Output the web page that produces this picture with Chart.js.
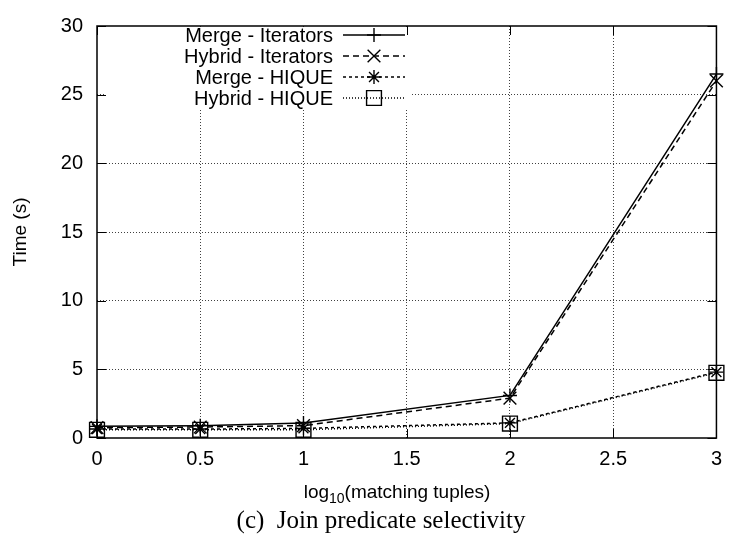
<!DOCTYPE html>
<html>
<head>
<meta charset="utf-8">
<script src="https://cdn.jsdelivr.net/npm/chart.js@4/dist/chart.umd.min.js"></script>
<style>
  html, body { margin: 0; padding: 0; background: #fff; }
  #wrap { width: 731px; height: 553px; }
</style>
</head>
<body>
<div id="wrap"><canvas id="c" width="731" height="553"></canvas></div>
<script>
// log10 of the number of matching tuples
const xValues = [0, 0.5, 1, 2, 3];
const xTicks = [0, 0.5, 1, 1.5, 2, 2.5, 3];
const yTicks = [0, 5, 10, 15, 20, 25, 30];

// Running time in seconds for each strategy
const seriesNames = ['Merge - Iterators', 'Hybrid - Iterators', 'Merge - HIQUE', 'Hybrid - HIQUE'];
const mergeIterators = [0.85, 0.9, 1.1, 3.1, 26.5];
const hybridIterators = [0.75, 0.8, 0.9, 2.9, 26.0];
const mergeHique = [0.65, 0.65, 0.7, 1.1, 4.8];
const hybridHique = [0.6, 0.6, 0.6, 1.05, 4.75];

const SANS = '"Liberation Sans", Arial, Helvetica, sans-serif';
const SERIF = '"Liberation Serif", "Times New Roman", serif';

const styles = [
  { dash: [], point: 'cross', r: 7 },
  { dash: [6, 4], point: 'crossRot', r: 9 },
  { dash: [3, 3], point: 'star', r: 7 },
  { dash: [1, 2], point: 'rect', r: 10.5 }
];

const seriesValues = [mergeIterators, hybridIterators, mergeHique, hybridHique];

const datasets = seriesValues.map((vals, i) => ({
  label: seriesNames[i],
  data: vals.map((v, j) => ({ x: xValues[j], y: v })),
  borderColor: '#000',
  backgroundColor: 'rgba(0,0,0,0)',
  borderWidth: 1.5,
  borderDash: styles[i].dash,
  pointStyle: styles[i].point,
  pointRadius: styles[i].r,
  pointHoverRadius: styles[i].r,
  pointBorderColor: '#000',
  pointBackgroundColor: 'rgba(0,0,0,0)',
  pointBorderWidth: 1.4,
  clip: false,
  tension: 0
}));

function marker(ctx, style, x, y, r) {
  ctx.save();
  ctx.setLineDash([]);
  ctx.lineWidth = 1.4;
  ctx.strokeStyle = '#000';
  ctx.beginPath();
  const d = Math.SQRT1_2 * r;
  if (style === 'cross' || style === 'star') {
    ctx.moveTo(x, y - r); ctx.lineTo(x, y + r);
    ctx.moveTo(x - r, y); ctx.lineTo(x + r, y);
  }
  if (style === 'crossRot' || style === 'star') {
    ctx.moveTo(x - d, y - d); ctx.lineTo(x + d, y + d);
    ctx.moveTo(x - d, y + d); ctx.lineTo(x + d, y - d);
  }
  if (style === 'rect') {
    ctx.rect(x - d, y - d, 2 * d, 2 * d);
  }
  ctx.stroke();
  ctx.restore();
}

// key area (kept clear of grid lines and top ticks)
const KEY_LEFT = 104, KEY_RIGHT = 406, KEY_BOTTOM = 108;

// Frame, inward tick marks, opaque key box, key and titles
const framePlugin = {
  id: 'frame',
  beforeDatasetsDraw(chart) {
    const { ctx, chartArea: a, scales } = chart;
    ctx.save();
    ctx.fillStyle = '#fff';
    ctx.fillRect(KEY_LEFT, a.top + 1, KEY_RIGHT + 6 - KEY_LEFT, KEY_BOTTOM - a.top - 1);
    // inward ticks on all four sides
    ctx.strokeStyle = '#000';
    ctx.lineWidth = 1;
    const tl = 9;
    ctx.beginPath();
    xTicks.forEach(v => {
      const px = Math.round(scales.x.getPixelForValue(v)) + 0.5;
      ctx.moveTo(px, a.bottom); ctx.lineTo(px, a.bottom - tl);
      if (px < KEY_LEFT || px > KEY_RIGHT) {
        ctx.moveTo(px, a.top); ctx.lineTo(px, a.top + tl);
      }
    });
    yTicks.forEach(v => {
      const py = Math.round(scales.y.getPixelForValue(v)) + 0.5;
      ctx.moveTo(a.left, py); ctx.lineTo(a.left + tl, py);
      ctx.moveTo(a.right, py); ctx.lineTo(a.right - tl, py);
    });
    ctx.stroke();
    // border
    ctx.lineWidth = 1.5;
    ctx.strokeRect(a.left, a.top, a.right - a.left, a.bottom - a.top);
    ctx.restore();
  },
  afterDraw(chart) {
    const { ctx, chartArea: a } = chart;
    ctx.save();
    ctx.fillStyle = '#000';
    // key
    ctx.font = '20px ' + SANS;
    ctx.textAlign = 'right';
    ctx.textBaseline = 'middle';
    chart.data.datasets.forEach((ds, i) => {
      const y = 35 + i * 21;
      ctx.fillText(ds.label, 333, y + 1);
      ctx.save();
      ctx.strokeStyle = '#000';
      ctx.lineWidth = ds.borderWidth;
      ctx.setLineDash(ds.borderDash);
      ctx.beginPath();
      ctx.moveTo(343, y); ctx.lineTo(405, y);
      ctx.stroke();
      ctx.restore();
      marker(ctx, ds.pointStyle, 374, y, ds.pointRadius);
    });
    // y title
    ctx.save();
    ctx.translate(21, (a.top + a.bottom) / 2);
    ctx.rotate(-Math.PI / 2);
    ctx.textAlign = 'center';
    ctx.font = '19px ' + SANS;
    ctx.fillText('Time (s)', 0, 0);
    ctx.restore();
    // x title with subscript
    const parts = [['log', '19px ', 0], ['10', '14px ', 5], ['(matching tuples)', '19px ', 0]];
    ctx.textAlign = 'left';
    ctx.textBaseline = 'alphabetic';
    let total = 0;
    parts.forEach(p => { ctx.font = p[1] + SANS; total += ctx.measureText(p[0]).width; });
    let x = 397 - total / 2;
    parts.forEach(p => {
      ctx.font = p[1] + SANS;
      ctx.fillText(p[0], x, 498 + p[2]);
      x += ctx.measureText(p[0]).width;
    });
    // caption
    ctx.font = '25px ' + SERIF;
    ctx.textAlign = 'center';
    ctx.fillText('(c)  Join predicate selectivity', 381, 528);
    ctx.restore();
  }
};

new Chart(document.getElementById('c'), {
  type: 'line',
  data: { datasets },
  plugins: [framePlugin],
  options: {
    responsive: false,
    animation: false,
    layout: { padding: { left: 0, right: 9, top: 18, bottom: 0 } },
    plugins: { legend: { display: false }, tooltip: { enabled: false }, title: { display: false } },
    scales: {
      x: {
        type: 'linear',
        min: 0, max: 3,
        afterFit(s) { s.height = 115; },
        afterBuildTicks(s) { s.ticks = xTicks.map(v => ({ value: v })); },
        ticks: {
          color: '#000',
          font: { family: SANS, size: 20 },
          padding: 9,
          maxRotation: 0,
          callback: v => String(v)
        },
        grid: {
          drawTicks: false,
          color: ctx => (ctx.tick && (ctx.tick.value === 0 || ctx.tick.value === 3)) ? 'rgba(0,0,0,0)' : 'rgba(0,0,0,0.75)',
          lineWidth: 1
        },
        border: { display: false, dash: [1, 2] }
      },
      y: {
        type: 'linear',
        min: 0, max: 30,
        afterFit(s) { s.width = 97; },
        afterBuildTicks(s) { s.ticks = yTicks.map(v => ({ value: v })); },
        ticks: {
          color: '#000',
          font: { family: SANS, size: 20 },
          padding: 14,
          callback: v => String(v)
        },
        grid: {
          drawTicks: false,
          color: ctx => (ctx.tick && (ctx.tick.value === 0 || ctx.tick.value === 30)) ? 'rgba(0,0,0,0)' : 'rgba(0,0,0,0.75)',
          lineWidth: 1
        },
        border: { display: false, dash: [1, 2] }
      }
    }
  }
});
</script>
</body>
</html>
